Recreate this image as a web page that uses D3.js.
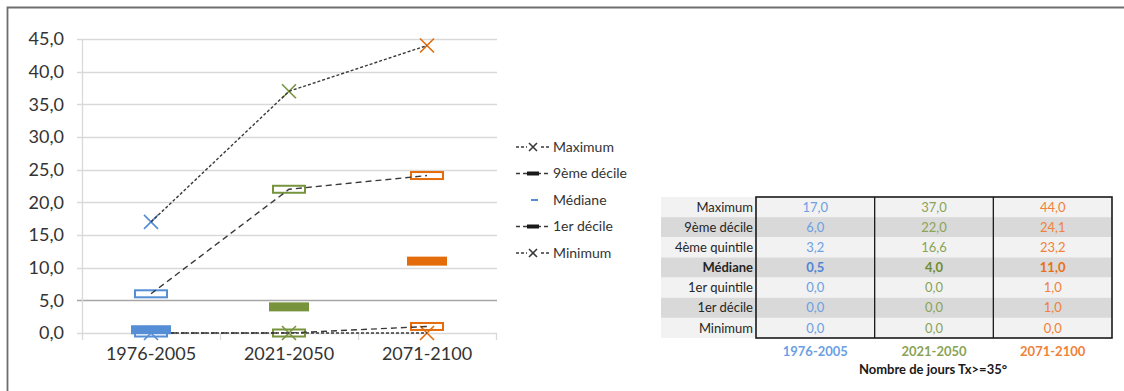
<!DOCTYPE html>
<html>
<head>
<meta charset="utf-8">
<script src="https://cdn.jsdelivr.net/npm/d3@7"></script>
<style>
  html, body { margin: 0; padding: 0; background: #fff; }
  svg { display: block; font-family: Lato, "Open Sans", sans-serif; }
</style>
</head>
<body>
<svg id="chart" width="1124" height="391"></svg>
<script>
// Number of days with Tx >= 35° per period (distribution statistics)
const categories = ["1976-2005", "2021-2050", "2071-2100"];
const maximum   = [17.0, 37.0, 44.0];
const decile9   = [6.0, 22.0, 24.1];
const quintile4 = [3.2, 16.6, 23.2];
const median    = [0.5, 4.0, 11.0];
const quintile1 = [0.0, 0.0, 1.0];
const decile1   = [0.0, 0.0, 1.0];
const minimum   = [0.0, 0.0, 0.0];
const yTicks = [0, 5, 10, 15, 20, 25, 30, 35, 40, 45];

const tableRows = ["Maximum", "9ème décile", "4ème quintile", "Médiane", "1er quintile", "1er décile", "Minimum"];
const tableValues = [maximum, decile9, quintile4, median, quintile1, decile1, minimum];
const tableTitle = "Nombre de jours Tx>=35°";

const legendLabels = ["Maximum", "9ème décile", "Médiane", "1er décile", "Minimum"];

const markColors  = ["#558ed5", "#77933c", "#e46c0a"];
const textColors  = ["#6c9fe3", "#8ba356", "#f0813a"];
const boldColors  = ["#4f86d6", "#6f8c30", "#e8700f"];

const fmt = v => d3.format(".1f")(v).replace(".", ",");

const svg = d3.select("#chart");

// outer frame (left + top edges)
svg.append("path")
  .attr("d", "M7.5,391 V7.5 H1124")
  .attr("fill", "none").attr("stroke", "#6e6e6e").attr("stroke-width", 1.8);

// ---------- chart ----------
const x = d3.scaleBand().domain(categories).range([82, 496]);
const y = d3.scaleLinear().domain([0, 45]).range([333, 39]);
const cx = c => x(c) + x.bandwidth() / 2;

const g = svg.append("g");

// horizontal gridlines
g.selectAll("line.grid").data(yTicks).join("line")
  .attr("x1", 77).attr("x2", 497)
  .attr("y1", d => Math.round(y(d)) + 0.5).attr("y2", d => Math.round(y(d)) + 0.5)
  .attr("stroke", d => d === 5 ? "#a6a6a6" : "#d9d9d9").attr("stroke-width", 1.3);

// vertical axis line
g.append("line").attr("x1", 82.5).attr("x2", 82.5).attr("y1", y(45)).attr("y2", y(0))
  .attr("stroke", "#d9d9d9").attr("stroke-width", 1.3);

// y axis labels
const yAxis = d3.axisLeft(y).tickValues(yTicks).tickFormat(fmt).tickSize(0).tickPadding(0);
g.append("g").attr("transform", "translate(64,0)").call(yAxis)
  .call(s => s.select(".domain").remove())
  .call(s => s.selectAll("text").attr("font-size", 18).attr("fill", "#333")
    .attr("font-family", "Lato, sans-serif"));

// x axis category ticks and labels
const xAxis = d3.axisBottom(x).tickSize(0).tickPadding(14);
g.append("g").attr("transform", `translate(0,${y(0)})`).call(xAxis)
  .call(s => s.select(".domain").remove())
  .call(s => s.selectAll("text").attr("font-size", 18).attr("fill", "#333")
    .attr("font-family", "Lato, sans-serif"));
const bounds = [x.range()[0], ...categories.map(c => x(c) + x.bandwidth())];
g.selectAll("line.xt").data(bounds).join("line")
  .attr("x1", d => d + 0.5).attr("x2", d => d + 0.5)
  .attr("y1", y(0)).attr("y2", y(0) + 7)
  .attr("stroke", "#d9d9d9").attr("stroke-width", 1.3);

// marker helpers
function xMark(sel, cxp, cyp, color, r) {
  sel.append("path")
    .attr("d", `M${cxp - r},${cyp - r}L${cxp + r},${cyp + r}M${cxp - r},${cyp + r}L${cxp + r},${cyp - r}`)
    .attr("stroke", color).attr("stroke-width", 1.6).attr("fill", "none");
}
function hollowRect(sel, cxp, cyp, color) {
  sel.append("rect")
    .attr("x", cxp - 16).attr("y", cyp - 3.5).attr("width", 32).attr("height", 7)
    .attr("fill", "#fff").attr("stroke", color).attr("stroke-width", 2);
}

const marks = g.append("g");
// 9th decile and 1st decile markers
[decile9, decile1].forEach(series => {
  series.forEach((v, i) => hollowRect(marks, cx(categories[i]), y(v), markColors[i]));
});
// maximum and minimum markers
[maximum, minimum].forEach(series => {
  series.forEach((v, i) => xMark(marks, cx(categories[i]), y(v), markColors[i], 7));
});

// dashed connecting lines
const line = d3.line().x((d, i) => cx(categories[i])).y(d => y(d));
[[maximum, "3,2"], [decile9, "6,4"], [decile1, "6,4"], [minimum, "3,2"]].forEach(([series, dash]) => {
  g.append("path").attr("d", line(series))
    .attr("fill", "none").attr("stroke", "#3a3a3a").attr("stroke-width", 1.4)
    .attr("stroke-dasharray", dash);
});

// median bars
g.append("g").selectAll("rect").data(median).join("rect")
  .attr("x", (d, i) => cx(categories[i]) - 20).attr("y", d => y(d) - 4.5)
  .attr("width", 40).attr("height", 9)
  .attr("fill", (d, i) => markColors[i]);

// ---------- legend ----------
const legend = svg.append("g").attr("font-size", 14).attr("fill", "#333");
const ly = d3.scalePoint().domain(legendLabels).range([147, 253]);
legendLabels.forEach((lab, k) => {
  const yy = ly(lab);
  const row = legend.append("g");
  if (lab === "Médiane") {
    row.append("line").attr("x1", 531).attr("x2", 538).attr("y1", yy).attr("y2", yy)
      .attr("stroke", markColors[0]).attr("stroke-width", 2);
  } else {
    const isX = lab === "Maximum" || lab === "Minimum";
    row.append("line").attr("x1", 516).attr("x2", 550).attr("y1", yy).attr("y2", yy)
      .attr("stroke", "#3a3a3a").attr("stroke-width", 1.3)
      .attr("stroke-dasharray", isX ? "3,2" : "4,3");
    if (isX) {
      row.append("rect").attr("x", 527).attr("y", yy - 5).attr("width", 12).attr("height", 10).attr("fill", "#fff");
      xMark(row, 533, yy, "#3a3a3a", 4);
    } else {
      row.append("rect").attr("x", 527).attr("y", yy - 2).attr("width", 12).attr("height", 4).attr("fill", "#1a1a1a");
    }
  }
  row.append("text").attr("x", 553).attr("y", yy).attr("dy", "0.35em").text(lab);
});

// ---------- table ----------
const tbl = svg.append("g").attr("font-size", 13);
const rowY = d3.scaleBand().domain(tableRows).range([197, 338]);
const colX = d3.scaleBand().domain(categories).range([756, 1112]);

// row backgrounds
tbl.selectAll("rect.bg").data(tableRows).join("rect")
  .attr("x", 661).attr("width", 1112 - 661)
  .attr("y", d => rowY(d)).attr("height", rowY.bandwidth())
  .attr("fill", (d, i) => i % 2 ? "#d9d9d9" : "#f2f2f2");

// row labels
tbl.selectAll("text.lab").data(tableRows).join("text")
  .attr("x", 753).attr("y", d => rowY(d) + rowY.bandwidth() / 2).attr("dy", "0.36em")
  .attr("text-anchor", "end").attr("fill", "#262626")
  .attr("font-weight", d => d === "Médiane" ? "bold" : "normal")
  .text(d => d);

// values
tableRows.forEach((r, ri) => {
  const bold = r === "Médiane";
  tableValues[ri].forEach((v, ci) => {
    tbl.append("text")
      .attr("x", colX(categories[ci]) + colX.bandwidth() / 2)
      .attr("y", rowY(r) + rowY.bandwidth() / 2).attr("dy", "0.36em")
      .attr("text-anchor", "middle")
      .attr("font-weight", bold ? "bold" : "normal")
      .attr("fill", bold ? boldColors[ci] : textColors[ci])
      .text(fmt(v));
  });
});

// borders
tbl.append("rect").attr("x", 756).attr("y", 197).attr("width", 1112 - 756).attr("height", 338 - 197)
  .attr("fill", "none").attr("stroke", "#1a1a1a").attr("stroke-width", 1.6);
categories.slice(1).forEach(c => {
  tbl.append("line").attr("x1", colX(c)).attr("x2", colX(c)).attr("y1", 197).attr("y2", 338)
    .attr("stroke", "#1a1a1a").attr("stroke-width", 1.3);
});

// column headers
tbl.selectAll("text.hdr").data(categories).join("text")
  .attr("x", d => colX(d) + colX.bandwidth() / 2).attr("y", 351).attr("dy", "0.36em")
  .attr("text-anchor", "middle").attr("font-weight", "bold").attr("font-size", 13)
  .attr("fill", (d, i) => textColors[i]).text(d => d);

tbl.append("text").attr("x", 933).attr("y", 369).attr("dy", "0.36em")
  .attr("text-anchor", "middle").attr("font-weight", "bold").attr("font-size", 13)
  .attr("fill", "#1a1a1a").text(tableTitle);
</script>
</body>
</html>
